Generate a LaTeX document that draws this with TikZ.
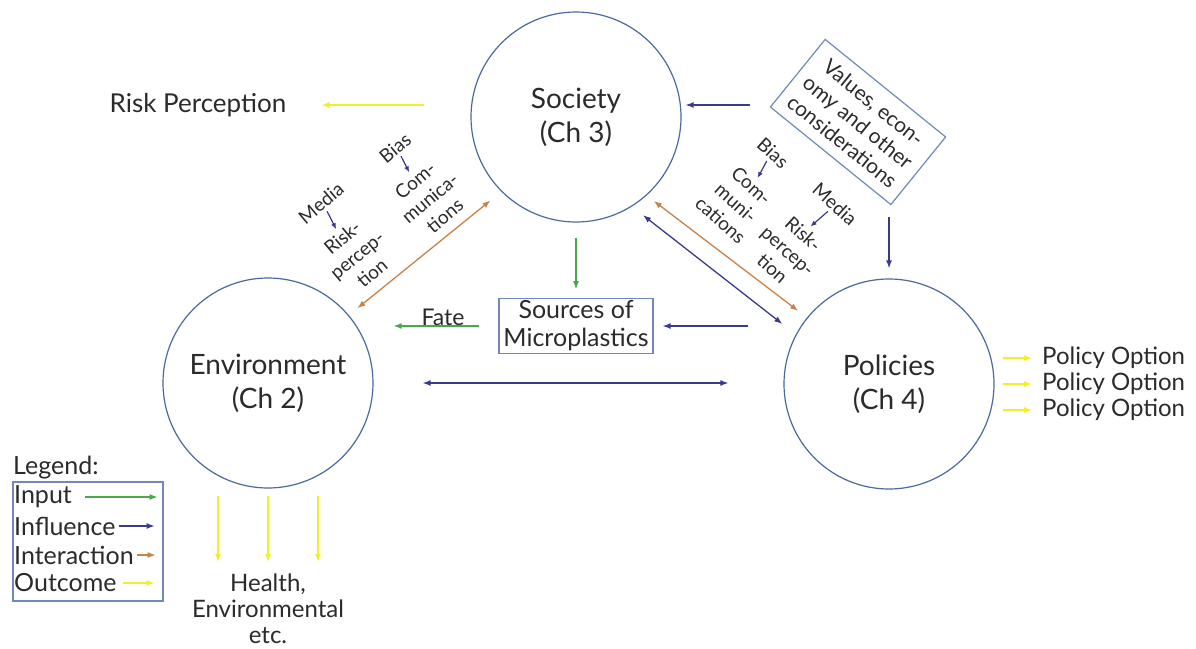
\documentclass[tikz,border=0pt]{standalone}
\usepackage{fontspec}
\setmainfont{Lato}
\usetikzlibrary{arrows.meta}
\definecolor{circ}{HTML}{4A6A9E}
\definecolor{boxc}{HTML}{7088BA}
\definecolor{infl}{HTML}{3A3A8C}
\definecolor{inp}{HTML}{4CA64C}
\definecolor{intc}{HTML}{C8834A}
\definecolor{outc}{HTML}{F0F02A}
\definecolor{txt}{HTML}{2B2B2B}
\begin{document}
\begin{tikzpicture}[x=1pt,y=-1pt,
  chap/.style={circle,draw=circ,line width=1.2pt,minimum size=210pt,inner sep=0pt,align=center,text=txt,font=\fontsize{28}{34}\selectfont},
  big/.style={text=txt,inner sep=0pt,font=\fontsize{25}{28}\selectfont},
  sm/.style={text=txt,inner sep=0pt,align=center,font=\fontsize{19}{23}\selectfont},
  arr/.style={line width=1.3pt,-{Latex[length=8pt,width=6pt]}},
  darr/.style={line width=1.3pt,{Latex[length=8pt,width=6pt]}-{Latex[length=8pt,width=6pt]}},
  sarr/.style={line width=1.2pt,infl,-{Latex[length=6pt,width=5pt]}}
]
\fill[white] (0,0) rectangle (1196,648);
\useasboundingbox (0,0) rectangle (1196,648);

% main circles
\node[chap] (soc) at (576,117) {Society\\(Ch 3)};
\node[chap] (env) at (268,383) {Environment\\(Ch 2)};
\node[chap] (pol) at (889,384) {Policies\\(Ch 4)};

% other nodes
\node[big,font=\fontsize{26}{28}\selectfont] (rp) at (198,105) {Risk Perception};
\node[big,draw=boxc,line width=1.2pt,align=center,minimum width=154pt,minimum height=54pt,inner sep=2pt,font=\fontsize{25}{28}\selectfont] (src) at (576,326) {Sources of\\Microplastics};
\node[big,font=\fontsize{23}{26}\selectfont] (fate) at (443,317) {Fate};
\node[draw=boxc,line width=1.2pt,rotate=-39,minimum width=155pt,minimum height=87pt,align=center,text=txt,inner sep=3pt,font=\fontsize{21}{25}\selectfont] (val) at (858,122) {Values, econ-\\omy and other\\considerations};

% rotated small labels
\node[sm,rotate=40] (med1) at (321,203) {Media};
\node[sm,rotate=40] (rsk1) at (357,255) {Risk-\\percep-\\tion};
\node[sm,rotate=40] (bia1) at (395,148) {Bias};
\node[sm,rotate=40] (com1) at (430,198) {Com-\\munica-\\tions};
\node[sm,rotate=-42] (bia2) at (773,153) {Bias};
\node[sm,rotate=-42] (com2) at (736,203) {Com-\\muni-\\cations};
\node[sm,rotate=-42] (med2) at (835,204) {Media};
\node[sm,rotate=-42] (rsk2) at (788,251) {Risk-\\percep-\\tion};

% policy options
\node[big,font=\fontsize{24}{28}\selectfont,anchor=west] (po1) at (1042,358) {Policy Option};
\node[big,font=\fontsize{24}{28}\selectfont,anchor=west] (po2) at (1042,384) {Policy Option};
\node[big,font=\fontsize{24}{28}\selectfont,anchor=west] (po3) at (1042,410) {Policy Option};

% health outcome
\node[big,align=center,font=\fontsize{24}{26}\selectfont] (hea) at (268,609) {Health,\\Environmental\\etc.};

% legend
\node[big,anchor=west] (leg) at (13,468) {Legend:};
\node[draw=boxc,line width=1.2pt,minimum width=150pt,minimum height=119pt,inner sep=0pt] (legbox) at (88,541.5) {};
\node[big,anchor=west] (lin) at (14,497) {Input};
\node[big,anchor=west] (lif) at (14,526) {Influence};
\node[big,anchor=west] (lia) at (14,555) {Interaction};
\node[big,anchor=west] (lou) at (14,583) {Outcome};

% connectors
\draw[arr,outc,shorten <=46pt,shorten >=35pt] (soc.west |- rp.east) -- (rp.east);
\coordinate (vs) at (750,105);
\draw[arr,infl,shorten >=4pt] (vs) -- (soc.east |- vs);
\coordinate (vp) at (889,217);
\draw[arr,infl,shorten >=10pt] (vp) -- (vp |- pol.north);
\draw[arr,inp,shorten <=15pt,shorten >=9pt] (soc.south) -- (src.north);
\draw[arr,inp,shorten <=19pt,shorten >=20pt] (src.west) -- (src.west -| env.east);
\draw[arr,infl,shorten <=35pt,shorten >=9pt] (src.east -| pol.west) -- (src.east);
\draw[darr,infl,shorten <=49pt,shorten >=55pt] (env.east) -- (env.east -| pol.west);
\draw[darr,intc,shorten <=11pt,shorten >=14pt] (env.40) -- (soc.225);
\draw[darr,intc,shorten <=9pt,shorten >=11pt] (soc.312) -- (pol.141);
\draw[darr,infl,shorten <=14pt,shorten >=17pt] (soc.302) -- (pol.152);

% small label arrows
\draw[sarr,shorten <=3pt,shorten >=3pt] (med1.south) -- (rsk1.north);
\draw[sarr,shorten <=3pt,shorten >=3pt] (bia1.south) -- (com1.north);
\draw[sarr,shorten <=3pt,shorten >=3pt] (bia2.south) -- (com2.north);
\draw[sarr,shorten <=3pt,shorten >=3pt] (med2.south) -- (rsk2.north);

% outcome arrows
\foreach \i in {1,2,3}{
  \draw[arr,outc,shorten <=8pt,shorten >=10pt] (po\i.west -| pol.east) -- (po\i.west);
}
\foreach \dx in {-50,0,50}{
  \draw[arr,outc,shorten <=7pt,shorten >=12pt] ([xshift=\dx pt]env.south) -- ([xshift=\dx pt]hea.north);
}

% legend arrows
\draw[arr,inp,shorten <=13pt,shorten >=6pt] (lin.east) -- (lin.east -| legbox.east);
\draw[arr,infl,shorten <=3pt,shorten >=9pt] (lif.east) -- (lif.east -| legbox.east);
\draw[arr,intc,shorten <=3pt,shorten >=8pt] (lia.east) -- (lia.east -| legbox.east);
\draw[arr,outc,shorten <=6pt,shorten >=9pt] (lou.east) -- (lou.east -| legbox.east);
\end{tikzpicture}
\end{document}
